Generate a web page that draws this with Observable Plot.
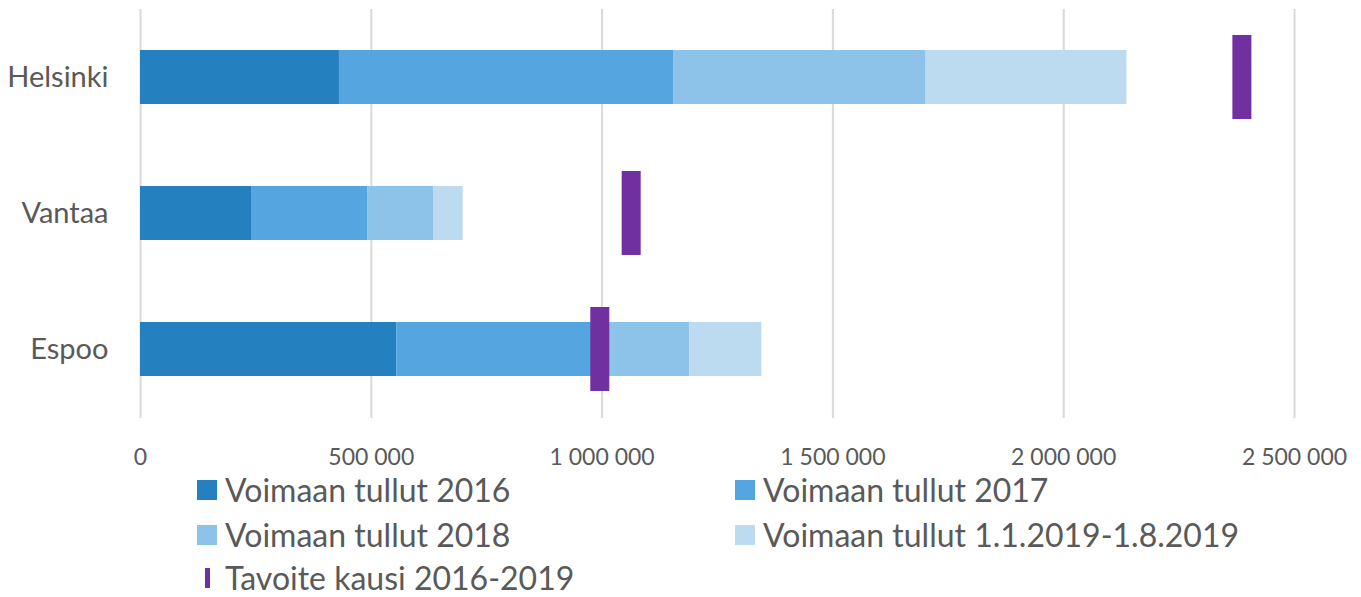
<!DOCTYPE html>
<html><head><meta charset="utf-8">
<script src="https://cdn.jsdelivr.net/npm/d3@7"></script>
<script src="https://cdn.jsdelivr.net/npm/@observablehq/plot@0.6"></script>
<style>
body{margin:0;background:#fff;font-family:Lato,"Open Sans",sans-serif;color:#595959;}
#legend{position:relative;height:127px;width:1361px;}
.item{position:absolute;display:flex;align-items:center;font-size:32px;line-height:40px;color:#595959;white-space:nowrap;}
.sw{width:20px;height:20px;margin-right:8px;}
</style></head><body>
<div id="chart"></div>
<div id="legend"></div>
<script>
const cities = ["Helsinki", "Vantaa", "Espoo"];
const seriesNames = ["Voimaan tullut 2016", "Voimaan tullut 2017", "Voimaan tullut 2018", "Voimaan tullut 1.1.2019-1.8.2019"];
const v2016 = [431000, 242000, 555000];
const v2017 = [725000, 251000, 448000];
const v2018 = [546000, 143000, 187000];
const v2019 = [435000, 63000, 156000];
const target = [2386000, 1063000, 995000];
const targetName = "Tavoite kausi 2016-2019";
const colors = ["#2480bf", "#55a6e0", "#8dc3e8", "#bcdbf1"];
const targetColor = "#7030a0";
const xTicks = [0, 500000, 1000000, 1500000, 2000000, 2500000];

const seriesVals = [v2016, v2017, v2018, v2019];
const rows = [];
seriesNames.forEach((s, si) => cities.forEach((c, ci) => rows.push({city: c, series: s, value: seriesVals[si][ci]})));
const targets = cities.map((c, i) => ({city: c, value: target[i]}));
const fmtX = d => d === 0 ? "0" : d3.format(",")(d).replace(/,/g, " ");

const chart = Plot.plot({
  width: 1361, height: 470,
  marginLeft: 140, marginRight: 67, marginTop: 9, marginBottom: 52,
  style: {fontFamily: "Lato, 'Open Sans', sans-serif", color: "#595959", background: "#fff"},
  x: {domain: [0, 2500000], label: null},
  y: {domain: cities, paddingInner: 0.6, paddingOuter: 0.3, align: 0.5, label: null},
  color: {domain: seriesNames, range: colors},
  marks: [
    Plot.ruleX(xTicks, {stroke: "#d9d9d9", strokeWidth: 2}),
    Plot.barX(rows, {y: "city", x: "value", fill: "series", order: seriesNames}),
    Plot.tickX(targets, {x: "value", y: "city", stroke: targetColor, strokeWidth: 19, insetTop: -15, insetBottom: -15}),
    Plot.axisX({ticks: xTicks, tickSize: 0, tickPadding: 30, fontSize: 23, tickFormat: fmtX}),
    Plot.axisY({tickSize: 0, tickPadding: 32, fontSize: 29})
  ]
});
document.getElementById("chart").append(chart);

const legend = document.getElementById("legend");
const pos = [[197, 0], [735, 0], [197, 45], [735, 45]];
seriesNames.forEach((s, i) => {
  const d = document.createElement("div");
  d.className = "item";
  d.style.left = pos[i][0] + "px"; d.style.top = pos[i][1] + "px";
  d.innerHTML = `<div class="sw" style="background:${colors[i]}"></div><span>${s}</span>`;
  legend.append(d);
});
const t = document.createElement("div");
t.className = "item";
t.style.left = "197px"; t.style.top = "88px";
t.innerHTML = `<div class="sw" style="background:none;display:flex;justify-content:center"><div style="width:5px;height:20px;background:${targetColor}"></div></div><span>${targetName}</span>`;
legend.append(t);
</script>
</body></html>
